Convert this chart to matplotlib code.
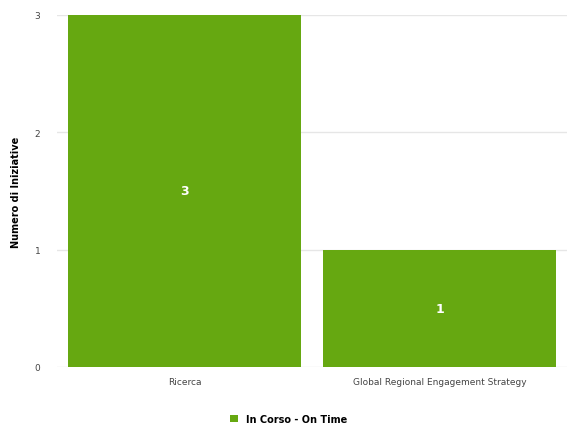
import matplotlib.pyplot as plt

categories = ['Ricerca', 'Global Regional Engagement Strategy']
values = [3, 1]
series_name = 'In Corso - On Time'
bar_color = '#66a811'

fig = plt.figure(figsize=(5.77, 4.27), dpi=100)
ax = fig.add_axes([57 / 577, 1 - 368 / 427, 510 / 577, 352 / 427])

x = range(len(categories))
bars = ax.bar(x, values, width=0.91, color=bar_color, label=series_name, zorder=2)

for b, v in zip(bars, values):
    ax.text(b.get_x() + b.get_width() / 2, v / 2, str(v), ha='center', va='center',
            color='white', fontsize=9, fontweight='bold', zorder=3)

ax.set_xlim(-0.5, len(categories) - 0.5)
ax.set_ylim(0, 3)
ax.set_yticks([0, 1, 2, 3])
ax.set_xticks(list(x))
ax.set_xticklabels(categories, fontsize=6.5, color='#444444')
ax.tick_params(axis='y', labelsize=6.5, colors='#444444', length=0, pad=12)
ax.tick_params(axis='x', length=0, pad=7)
ax.grid(axis='y', color='#e6e6e6', linewidth=1, zorder=0)
for s in ax.spines.values():
    s.set_visible(False)
ax.set_ylabel('Numero di Iniziative', fontsize=7, fontweight='bold', labelpad=10)

fig.legend(loc='lower center', bbox_to_anchor=(0.5, -0.015), frameon=False,
           handlelength=0.8, handleheight=0.8, prop={'weight': 'bold', 'size': 7})

fig.savefig('out.png', dpi=100)
